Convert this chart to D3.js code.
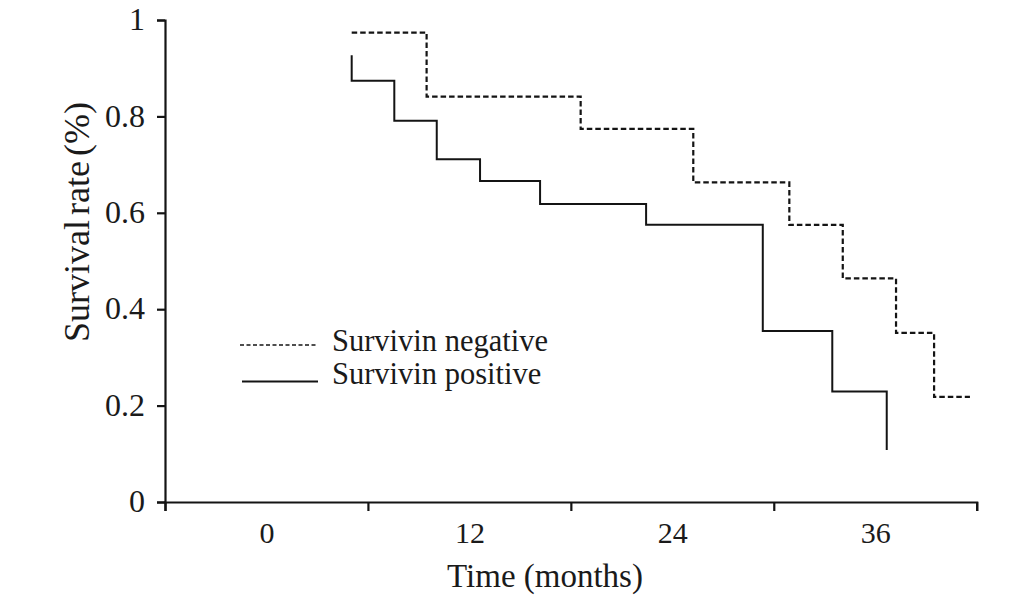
<!DOCTYPE html>
<html>
<head>
<meta charset="utf-8">
<script src="https://cdn.jsdelivr.net/npm/d3@7/dist/d3.min.js"></script>
<style>
  html, body { margin: 0; padding: 0; background: #fff; }
  svg { display: block; }
  text { font-family: "Liberation Serif", "Times New Roman", serif; fill: #1a1a1a; }
</style>
</head>
<body>
<svg id="chart" width="1033" height="604"></svg>
<script>
// ---- data ----
const negTimes = [5.04, 9.47, 18.58, 25.24, 30.92, 34.08, 37.23, 39.48, 41.6];
const negSurv  = [0.974, 0.841, 0.774, 0.663, 0.575, 0.464, 0.351, 0.218, 0.218];
const posTimes = [5.04, 5.04, 7.56, 10.07, 12.63, 16.18, 22.45, 29.35, 33.46, 36.68];
const posSurv  = [0.927, 0.874, 0.791, 0.711, 0.666, 0.618, 0.575, 0.355, 0.229, 0.108];
const xLabelTicks = [0, 12, 24, 36];
const xMarkTicks = [-6, 6, 18, 30, 42];
const yTicks = [0, 0.2, 0.4, 0.6, 0.8, 1];
const seriesNames = ["Survivin negative", "Survivin positive"];

(function () {
const svg = d3.select("#chart");
const mLeft = 165, mRight = 976.7, mTop = 20, mBottom = 502;

const x = d3.scaleLinear().domain([-6, 42]).range([mLeft, mRight]);
const y = d3.scaleLinear().domain([0, 1]).range([mBottom, mTop]);

const ink = "#141414";

// y axis
const yAxis = svg.append("g").attr("transform", `translate(${mLeft},0)`)
  .call(d3.axisLeft(y).tickValues(yTicks).tickSize(8).tickPadding(12)
    .tickFormat(d => d === 0 || d === 1 ? d3.format("d")(d) : d3.format(".1f")(d)));
yAxis.select(".domain").attr("stroke", ink).attr("stroke-width", 2.2);
yAxis.selectAll(".tick line").attr("stroke", ink).attr("stroke-width", 2.2);
yAxis.selectAll(".tick text").attr("font-size", 32).attr("fill", ink)
  .attr("font-family", "Liberation Serif, serif").attr("dy", "0.3em");

// x axis marks
const xAxis = svg.append("g").attr("transform", `translate(0,${mBottom})`)
  .call(d3.axisBottom(x).tickValues(xMarkTicks).tickSize(9).tickFormat(""));
xAxis.select(".domain").attr("stroke", ink).attr("stroke-width", 2.2);
xAxis.selectAll(".tick line").attr("stroke", ink).attr("stroke-width", 2.2);

// x labels
const xLab = svg.append("g").attr("transform", `translate(0,${mBottom})`)
  .call(d3.axisBottom(x).tickValues(xLabelTicks).tickSize(0).tickPadding(20));
xLab.select(".domain").remove();
xLab.selectAll(".tick text").attr("font-size", 30).attr("fill", ink)
  .attr("font-family", "Liberation Serif, serif");

// axis titles
svg.append("text").attr("x", 545).attr("y", 587).attr("text-anchor", "middle")
  .attr("font-size", 33).text("Time (months)");
svg.append("text").attr("transform", "translate(89,222) rotate(-90)")
  .attr("text-anchor", "middle").attr("font-size", 36).attr("word-spacing", "-4")
  .text("Survival rate (%)");

// lines
const line = d3.line().x(d => x(d[0])).y(d => y(d[1])).curve(d3.curveStepAfter);
const negData = negTimes.map((t, i) => [t, negSurv[i]]);
const posData = posTimes.map((t, i) => [t, posSurv[i]]);

svg.append("path").datum(negData).attr("d", line)
  .attr("fill", "none").attr("stroke", ink).attr("stroke-width", 2.2)
  .attr("stroke-dasharray", "5.5,3");
svg.append("path").datum(posData).attr("d", line)
  .attr("fill", "none").attr("stroke", ink).attr("stroke-width", 2);

// legend
const legend = svg.append("g");
const legY = [345, 381.5];
legend.append("line").attr("x1", 240).attr("x2", 318).attr("y1", legY[0]).attr("y2", legY[0])
  .attr("stroke", ink).attr("stroke-width", 1.6).attr("stroke-dasharray", "4,2.5");
legend.append("line").attr("x1", 242).attr("x2", 318).attr("y1", legY[1]).attr("y2", legY[1])
  .attr("stroke", ink).attr("stroke-width", 1.8);
legend.selectAll("text.leg").data(seriesNames).enter().append("text")
  .attr("class", "leg").attr("x", 332).attr("y", (d, i) => [351, 384][i])
  .attr("font-size", 30.5).text(d => d);
})();
</script>
</body>
</html>
